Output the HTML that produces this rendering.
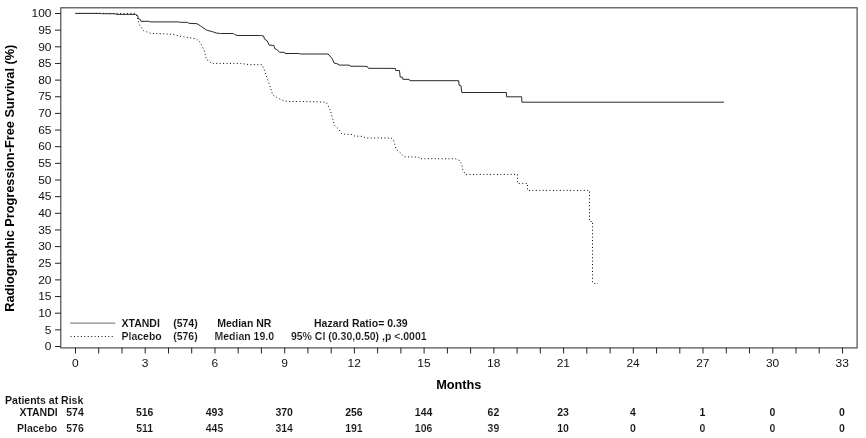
<!DOCTYPE html>
<html lang="en">
<head>
<meta charset="utf-8">
<title>Radiographic Progression-Free Survival</title>
<style>
html,body{margin:0;padding:0;background:#fff;}
body{width:866px;height:438px;overflow:hidden;}
svg{display:block;will-change:transform;}
text{font-family:"Liberation Sans",sans-serif;fill:#111;}
.tk{font-size:11.3px;fill:#1a1a1a;}
.b{font-weight:bold;font-size:10.5px;fill:#000;}
.b{stroke:#fff;stroke-width:0.05px;}
.l{stroke:#fff;stroke-width:0.14px;}
.ax{font-weight:bold;font-size:12.75px;fill:#000;}
</style>
</head>
<body>
<svg width="866" height="438" viewBox="0 0 866 438">
<rect x="0" y="0" width="866" height="438" fill="#ffffff"/>
<rect x="60.8" y="7.8" width="796.3" height="340.1" fill="none" stroke="#444" stroke-width="1.15"/>
<g stroke="#222" stroke-width="1">
<line x1="55" y1="346.50" x2="60.8" y2="346.50"/>
<line x1="55" y1="329.85" x2="60.8" y2="329.85"/>
<line x1="55" y1="313.20" x2="60.8" y2="313.20"/>
<line x1="55" y1="296.55" x2="60.8" y2="296.55"/>
<line x1="55" y1="279.90" x2="60.8" y2="279.90"/>
<line x1="55" y1="263.25" x2="60.8" y2="263.25"/>
<line x1="55" y1="246.60" x2="60.8" y2="246.60"/>
<line x1="55" y1="229.95" x2="60.8" y2="229.95"/>
<line x1="55" y1="213.30" x2="60.8" y2="213.30"/>
<line x1="55" y1="196.65" x2="60.8" y2="196.65"/>
<line x1="55" y1="180.00" x2="60.8" y2="180.00"/>
<line x1="55" y1="163.35" x2="60.8" y2="163.35"/>
<line x1="55" y1="146.70" x2="60.8" y2="146.70"/>
<line x1="55" y1="130.05" x2="60.8" y2="130.05"/>
<line x1="55" y1="113.40" x2="60.8" y2="113.40"/>
<line x1="55" y1="96.75" x2="60.8" y2="96.75"/>
<line x1="55" y1="80.10" x2="60.8" y2="80.10"/>
<line x1="55" y1="63.45" x2="60.8" y2="63.45"/>
<line x1="55" y1="46.80" x2="60.8" y2="46.80"/>
<line x1="55" y1="30.15" x2="60.8" y2="30.15"/>
<line x1="55" y1="13.50" x2="60.8" y2="13.50"/>
<line x1="75.5" y1="347.8" x2="75.5" y2="353.5"/>
<line x1="98.7" y1="347.8" x2="98.7" y2="353.5"/>
<line x1="122.0" y1="347.8" x2="122.0" y2="353.5"/>
<line x1="145.2" y1="347.8" x2="145.2" y2="353.5"/>
<line x1="168.5" y1="347.8" x2="168.5" y2="353.5"/>
<line x1="191.7" y1="347.8" x2="191.7" y2="353.5"/>
<line x1="215.0" y1="347.8" x2="215.0" y2="353.5"/>
<line x1="238.2" y1="347.8" x2="238.2" y2="353.5"/>
<line x1="261.4" y1="347.8" x2="261.4" y2="353.5"/>
<line x1="284.7" y1="347.8" x2="284.7" y2="353.5"/>
<line x1="307.9" y1="347.8" x2="307.9" y2="353.5"/>
<line x1="331.2" y1="347.8" x2="331.2" y2="353.5"/>
<line x1="354.4" y1="347.8" x2="354.4" y2="353.5"/>
<line x1="377.6" y1="347.8" x2="377.6" y2="353.5"/>
<line x1="400.9" y1="347.8" x2="400.9" y2="353.5"/>
<line x1="424.1" y1="347.8" x2="424.1" y2="353.5"/>
<line x1="447.4" y1="347.8" x2="447.4" y2="353.5"/>
<line x1="470.6" y1="347.8" x2="470.6" y2="353.5"/>
<line x1="493.9" y1="347.8" x2="493.9" y2="353.5"/>
<line x1="517.1" y1="347.8" x2="517.1" y2="353.5"/>
<line x1="540.3" y1="347.8" x2="540.3" y2="353.5"/>
<line x1="563.6" y1="347.8" x2="563.6" y2="353.5"/>
<line x1="586.8" y1="347.8" x2="586.8" y2="353.5"/>
<line x1="610.1" y1="347.8" x2="610.1" y2="353.5"/>
<line x1="633.3" y1="347.8" x2="633.3" y2="353.5"/>
<line x1="656.6" y1="347.8" x2="656.6" y2="353.5"/>
<line x1="679.8" y1="347.8" x2="679.8" y2="353.5"/>
<line x1="703.0" y1="347.8" x2="703.0" y2="353.5"/>
<line x1="726.3" y1="347.8" x2="726.3" y2="353.5"/>
<line x1="749.5" y1="347.8" x2="749.5" y2="353.5"/>
<line x1="772.8" y1="347.8" x2="772.8" y2="353.5"/>
<line x1="796.0" y1="347.8" x2="796.0" y2="353.5"/>
<line x1="819.2" y1="347.8" x2="819.2" y2="353.5"/>
<line x1="842.5" y1="347.8" x2="842.5" y2="353.5"/>
</g>
<g class="tk" text-anchor="end" transform="scale(1.06 1)">
<text x="48.58" y="350.3">0</text>
<text x="48.58" y="333.7">5</text>
<text x="48.58" y="317.0">10</text>
<text x="48.58" y="300.4">15</text>
<text x="48.58" y="283.7">20</text>
<text x="48.58" y="267.1">25</text>
<text x="48.58" y="250.4">30</text>
<text x="48.58" y="233.8">35</text>
<text x="48.58" y="217.1">40</text>
<text x="48.58" y="200.5">45</text>
<text x="48.58" y="183.8">50</text>
<text x="48.58" y="167.2">55</text>
<text x="48.58" y="150.5">60</text>
<text x="48.58" y="133.9">65</text>
<text x="48.58" y="117.2">70</text>
<text x="48.58" y="100.5">75</text>
<text x="48.58" y="83.9">80</text>
<text x="48.58" y="67.2">85</text>
<text x="48.58" y="50.6">90</text>
<text x="48.58" y="33.9">95</text>
<text x="48.58" y="17.3">100</text>
</g>
<g class="tk" text-anchor="middle" transform="scale(1.06 1)">
<text x="71.04" y="367.5">0</text>
<text x="136.82" y="367.5">3</text>
<text x="202.60" y="367.5">6</text>
<text x="268.38" y="367.5">9</text>
<text x="334.15" y="367.5">12</text>
<text x="399.93" y="367.5">15</text>
<text x="465.71" y="367.5">18</text>
<text x="531.49" y="367.5">21</text>
<text x="597.27" y="367.5">24</text>
<text x="663.05" y="367.5">27</text>
<text x="728.83" y="367.5">30</text>
<text x="794.61" y="367.5">33</text>
</g>
<text class="ax" text-anchor="middle" x="458.8" y="389.2">Months</text>
<text class="ax" text-anchor="middle" transform="translate(14.2 178.2) rotate(-90)">Radiographic Progression-Free Survival (%)</text>
<polyline fill="none" stroke="#000" stroke-width="1" stroke-dasharray="1 2.43" points="75.5,13.4 135.6,13.4 137.4,17.0 139.3,24.4 142.1,28.6 143.6,30.7 148.0,32.4 150.5,33.4 157.0,33.6 173.0,34.3 180.0,36.2 189.7,37.8 196.2,38.8 200.2,42.3 204.2,50.4 205.6,56.5 206.6,59.8 209.2,60.8 211.0,63.2 214.8,63.4 240.6,63.4 249.0,64.6 262.2,64.7 264.2,70.0 268.6,82.0 272.6,94.8 277.5,98.0 283.9,100.9 290.4,101.5 314.7,101.7 326.3,102.3 330.2,109.8 332.7,119.0 334.7,125.5 338.4,128.8 341.8,134.0 352.3,134.5 354.8,136.1 362.8,136.4 366.1,138.0 391.1,138.0 393.6,140.1 396.0,149.0 400.8,153.1 404.1,156.8 418.6,157.1 420.2,158.7 455.4,158.8 459.4,160.4 461.8,163.9 462.3,168.8 465.5,174.4 517.5,174.4 517.5,183.4 527.5,183.4 527.5,190.4 589.5,190.4 589.5,221.4 592.5,221.4 592.5,282.6 594.0,283.5 598.0,283.5"/>
<polyline fill="none" stroke="#2a2a2a" stroke-width="1" stroke-linejoin="miter" points="75.5,13.4 101.0,13.4 101.5,13.7 115.8,13.8 116.2,14.4 135.5,14.4 137.6,15.5 138.4,18.8 140.4,19.6 141.0,21.3 149.4,21.3 149.8,21.9 178.8,21.9 180.0,22.3 187.3,22.3 188.9,23.3 197.0,23.7 200.2,25.7 206.7,30.2 212.2,31.6 216.3,33.0 220.5,33.5 233.3,33.5 234.4,34.4 237.1,35.5 260.4,35.5 263.5,36.0 264.6,39.2 267.3,40.9 269.1,45.1 273.9,45.4 274.6,48.5 277.4,49.9 279.5,52.3 284.6,52.4 285.0,53.5 299.2,53.5 299.5,54.0 328.1,54.0 332.3,58.9 334.0,63.0 338.2,64.1 338.9,65.1 349.3,65.1 350.0,66.2 363.8,66.3 367.3,66.5 368.3,68.3 395.4,68.4 395.7,70.5 399.5,70.6 400.2,77.0 402.6,77.3 402.8,79.3 409.2,79.4 409.9,80.7 458.7,80.7 459.0,85.1 461.0,85.9 461.8,92.5 506.4,92.5 506.5,96.8 521.7,96.8 521.9,102.2 724.0,102.2"/>
<line x1="70.1" y1="323.1" x2="115.4" y2="323.1" stroke="#8a8a8a" stroke-width="1.3"/>
<line x1="70.6" y1="336.5" x2="113" y2="336.5" stroke="#111" stroke-width="1" stroke-dasharray="1 2.43"/>
<g class="b">
<text x="121.5" y="326.6">XTANDI</text>
<text x="173.2" y="326.6">(574)</text>
<text class="l" x="121.5" y="340.3">Placebo</text>
<text class="l" x="173.2" y="340.3">(576)</text>
<text x="244.3" y="326.6" text-anchor="middle">Median NR</text>
<text class="l" x="244.3" y="340.3" text-anchor="middle">Median 19.0</text>
<text x="360.8" y="326.6" text-anchor="middle">Hazard Ratio= 0.39</text>
<text class="l" x="358.8" y="340.3" text-anchor="middle">95% CI (0.30,0.50) ,p &lt;.0001</text>
</g>
<g class="b">
<text x="5.1" y="403.5">Patients at Risk</text>
<text x="57.7" y="415.6" text-anchor="end">XTANDI</text>
<text class="l" x="57.3" y="431.6" text-anchor="end">Placebo</text>
<g text-anchor="middle">
<text x="75.0" y="415.6">574</text>
<text x="144.7" y="415.6">516</text>
<text x="214.5" y="415.6">493</text>
<text x="284.2" y="415.6">370</text>
<text x="353.9" y="415.6">256</text>
<text x="423.6" y="415.6">144</text>
<text x="493.4" y="415.6">62</text>
<text x="563.1" y="415.6">23</text>
<text x="632.8" y="415.6">4</text>
<text x="702.5" y="415.6">1</text>
<text x="772.3" y="415.6">0</text>
<text x="842.0" y="415.6">0</text>
<text class="l" x="75.0" y="431.6">576</text>
<text class="l" x="144.7" y="431.6">511</text>
<text class="l" x="214.5" y="431.6">445</text>
<text class="l" x="284.2" y="431.6">314</text>
<text class="l" x="353.9" y="431.6">191</text>
<text class="l" x="423.6" y="431.6">106</text>
<text class="l" x="493.4" y="431.6">39</text>
<text class="l" x="563.1" y="431.6">10</text>
<text class="l" x="632.8" y="431.6">0</text>
<text class="l" x="702.5" y="431.6">0</text>
<text class="l" x="772.3" y="431.6">0</text>
<text class="l" x="842.0" y="431.6">0</text>
</g>
</g>
</svg>
</body>
</html>
